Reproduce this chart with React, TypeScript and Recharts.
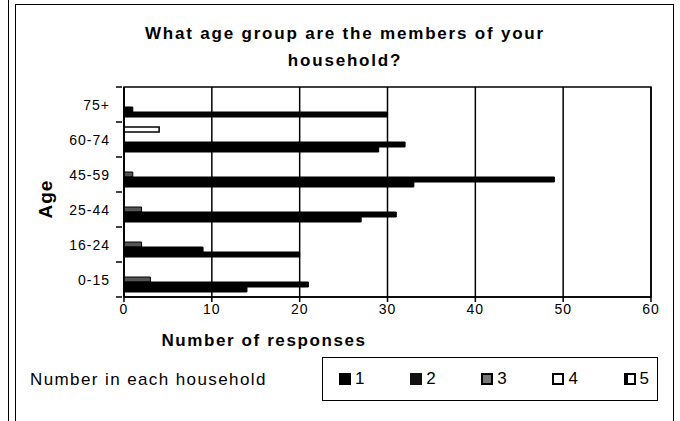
import React from 'react';
import { BarChart, Bar, XAxis, YAxis, CartesianGrid, ReferenceArea } from 'recharts';

const ages = ['75+', '60-74', '45-59', '25-44', '16-24', '0-15'];
const one = [30, 29, 33, 27, 20, 14];
const two = [1, 32, 49, 31, 9, 21];
const three = [0, 0, 1, 2, 2, 3];
const four = [0, 0, 0, 0, 0, 0];
const five = [0, 4, 0, 0, 0, 0];
const xTicks = [0, 10, 20, 30, 40, 50, 60];
const legendLabels = ['1', '2', '3', '4', '5'];

const data = ages.map((age, i) => ({
  age,
  s1: one[i],
  s2: two[i],
  s3: three[i],
  s4: four[i],
  s5: five[i],
}));

const FONT = '"Liberation Sans", Arial, Helvetica, sans-serif';

const swatch: Record<string, React.CSSProperties> = {
  '1': { background: '#000' },
  '2': { background: '#111' },
  '3': { background: '#777', boxShadow: 'inset 0 0 0 2px #000' },
  '4': { background: '#fff', boxShadow: 'inset 0 0 0 2px #000' },
  '5': { background: '#fff', boxShadow: 'inset 4px 0 0 0 #000, inset 0 0 0 2px #000' },
};

function AgeTick(props: any) {
  const { x, y, payload, index } = props;
  const half = payload && payload.offset ? payload.offset : 17.5;
  return (
    <g>
      <line x1={x} x2={x + 6} y1={y - half} y2={y - half} stroke="#000" strokeWidth={1.5} />
      {index === ages.length - 1 && (
        <line x1={x} x2={x + 6} y1={y + half} y2={y + half} stroke="#000" strokeWidth={1.5} />
      )}
      <text x={x - 6} y={y} dy={5} textAnchor="end" fontSize={14} letterSpacing={1} fontFamily={FONT} fill="#000">
        {payload.value}
      </text>
    </g>
  );
}

export default function App() {
  return (
    <div style={{ position: 'absolute', left: 0, top: 0, width: 680, height: 421, background: '#fff', overflow: 'hidden', fontFamily: FONT }}>
      <div style={{ position: 'absolute', left: 8, top: 0, width: 0, height: 421, borderLeft: '1.5px solid #000' }} />
      <div style={{ position: 'absolute', left: 15, top: 4, width: 657, height: 440, border: '1.5px solid #000' }} />
      <div style={{ position: 'absolute', left: 15, top: 20, width: 660, textAlign: 'center', fontSize: 17, fontWeight: 'bold', lineHeight: '27px', letterSpacing: 1.8 }}>
        What age group are the members of your
        <br />
        household?
      </div>
      <div style={{ position: 'absolute', left: 0, top: 0 }}>
        <BarChart
          width={680}
          height={421}
          data={data}
          layout="vertical"
          margin={{ top: 87, right: 29, bottom: 94, left: 74 }}
          barCategoryGap={5}
          barGap={0}
        >
          <CartesianGrid horizontal={false} stroke="#000" strokeWidth={1.5} />
          <XAxis
            type="number"
            domain={[0, 60]}
            ticks={xTicks}
            axisLine={{ stroke: '#000', strokeWidth: 1.5 }}
            tickLine={{ stroke: '#000', strokeWidth: 1.5 }}
            tickSize={5}
            tick={{ fill: '#000', fontSize: 14, fontFamily: FONT, letterSpacing: 1 }}
            height={30}
          />
          <YAxis
            type="category"
            dataKey="age"
            width={50}
            axisLine={{ stroke: '#000', strokeWidth: 1.5 }}
            tickLine={false}
            tick={<AgeTick />}
          />
          <Bar dataKey="s5" fill="#fff" stroke="#000" strokeWidth={1.5} isAnimationActive={false} />
          <Bar dataKey="s4" fill="#fff" stroke="#000" strokeWidth={1.5} isAnimationActive={false} />
          <Bar dataKey="s3" fill="#555" stroke="#000" strokeWidth={1} isAnimationActive={false} />
          <Bar dataKey="s2" fill="#000" stroke="#000" strokeWidth={1} isAnimationActive={false} />
          <Bar dataKey="s1" fill="#000" stroke="#000" strokeWidth={1} isAnimationActive={false} />
          <ReferenceArea x1={0} x2={60} fill="none" stroke="#000" strokeWidth={1.5} ifOverflow="visible" />
        </BarChart>
      </div>
      <div style={{ position: 'absolute', left: 46, top: 199, transform: 'translate(-50%, -50%) rotate(-90deg)', fontSize: 19, fontWeight: 'bold', letterSpacing: 1 }}>
        Age
      </div>
      <div style={{ position: 'absolute', left: 264, top: 341, transform: 'translate(-50%, -50%)', fontSize: 17, fontWeight: 'bold', letterSpacing: 1.6, whiteSpace: 'nowrap' }}>
        Number of responses
      </div>
      <div style={{ position: 'absolute', left: 30, top: 380, transform: 'translateY(-50%)', fontSize: 17, letterSpacing: 1.4, whiteSpace: 'nowrap' }}>
        Number in each household
      </div>
      <div style={{ position: 'absolute', left: 322, top: 357, width: 336, height: 44, boxSizing: 'border-box', border: '1.5px solid #000', display: 'flex', alignItems: 'center', justifyContent: 'space-between', padding: '0 8px 0 16px', fontSize: 17 }}>
        {legendLabels.map((l) => (
          <div key={l} style={{ display: 'flex', alignItems: 'center' }}>
            <span style={{ display: 'inline-block', width: 12, height: 12, marginRight: 4, ...swatch[l] }} />
            {l}
          </div>
        ))}
      </div>
    </div>
  );
}
